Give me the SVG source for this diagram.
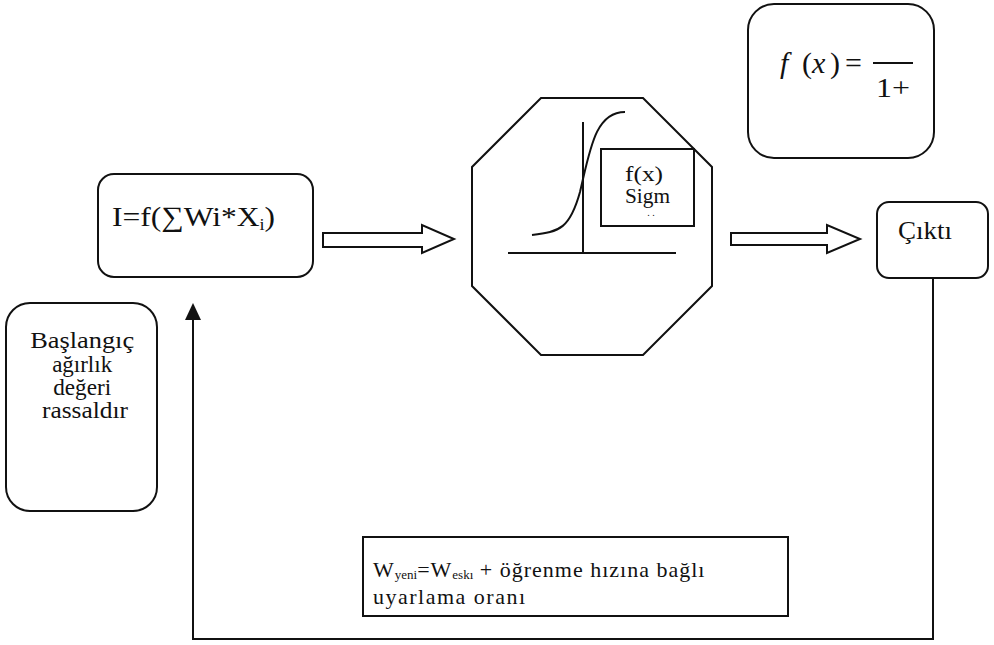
<svg xmlns="http://www.w3.org/2000/svg" width="994" height="645" viewBox="0 0 994 645">
<style>
.box{fill:#fff;stroke:#111;stroke-width:2}
.ln{fill:none;stroke:#111;stroke-width:2}
.t{font-family:'Liberation Serif','Times New Roman',Times,'DejaVu Serif',serif;fill:#111}
</style>
<rect width="994" height="645" fill="#fff"/>

<g id="formula">
<rect class="box" x="748" y="4" width="186" height="154" rx="26"/>
<text class="t" x="780" y="73" font-size="30" font-style="italic">f</text>
<text class="t" x="802" y="73" font-size="30">(</text>
<text class="t" x="812" y="73" font-size="30" font-style="italic">x</text>
<text class="t" x="830" y="73" font-size="30">)</text>
<text class="t" x="845" y="73" font-size="30">=</text>
<line x1="873" y1="63" x2="913" y2="63" stroke="#111" stroke-width="2"/>
<text class="t" x="876" y="97" font-size="28" textLength="34" lengthAdjust="spacingAndGlyphs">1+</text>
</g>

<g id="sum">
<rect class="box" x="98" y="174" width="215" height="103" rx="16"/>
<text class="t" x="112" y="226" font-size="28" textLength="163" lengthAdjust="spacingAndGlyphs">I=f(∑Wi*X<tspan font-size="16" dy="4">i</tspan><tspan dy="-4">)</tspan></text>
</g>

<g id="sigmoid">
<polygon class="box" points="541,98 643,98 712,167 712,286 643,355 541,355 472,286 472,167"/>
<line x1="583" y1="122" x2="583" y2="253" stroke="#111" stroke-width="2"/>
<line x1="508" y1="253" x2="676" y2="253" stroke="#111" stroke-width="2"/>
<path class="ln" d="M532,235 C560,232 570,228 580,192 C590,150 595,112 625,112"/>
<rect class="box" x="601" y="149" width="93" height="77" stroke-width="1.5"/>
<text class="t" x="625" y="181" font-size="20" textLength="38" lengthAdjust="spacingAndGlyphs">f(x)</text>
<text class="t" x="625" y="203" font-size="20" textLength="45" lengthAdjust="spacingAndGlyphs">Sigm</text>
<text class="t" x="651" y="216" font-size="10" text-anchor="middle">. .</text>
</g>

<g id="cikti">
<rect class="box" x="877" y="202" width="111" height="76" rx="12"/>
<text class="t" x="898" y="239" font-size="25" textLength="54" lengthAdjust="spacingAndGlyphs">Çıktı</text>
</g>

<g id="baslangic">
<rect class="box" x="6" y="303" width="151" height="208" rx="24"/>
<text class="t" font-size="23" text-anchor="middle">
<tspan x="85" y="348" textLength="104" lengthAdjust="spacingAndGlyphs">Başlangıç</tspan>
<tspan x="85" y="372" textLength="60" lengthAdjust="spacingAndGlyphs">ağırlık</tspan>
<tspan x="85" y="395" textLength="58" lengthAdjust="spacingAndGlyphs">değeri</tspan>
<tspan x="85" y="418" textLength="86" lengthAdjust="spacingAndGlyphs">rassaldır</tspan>
</text>
</g>

<g id="update">
<rect class="box" x="363" y="537" width="425" height="79" stroke-width="1.5"/>
<text class="t" x="373" y="577" font-size="22" letter-spacing="1">W<tspan font-size="13" dy="2" letter-spacing="0">yeni</tspan><tspan dy="-2">=W</tspan><tspan font-size="13" dy="2" letter-spacing="0">eskı</tspan><tspan dy="-2"> + öğrenme hızına bağlı</tspan></text>
<text class="t" x="373" y="604" font-size="22" letter-spacing="1.5">uyarlama oranı</text>
</g>

<g id="connectors">
<polygon class="box" points="323,233 422,233 422,225 454,239 422,253 422,247 323,247"/>
<polygon class="box" points="731,233 827,233 827,225 860,239 827,253 827,245 731,245"/>
<polyline class="ln" points="933,278 933,639 193,639 193,318"/>
<polygon points="193,303 185,320 201,320" fill="#111"/>
</g>
</svg>
